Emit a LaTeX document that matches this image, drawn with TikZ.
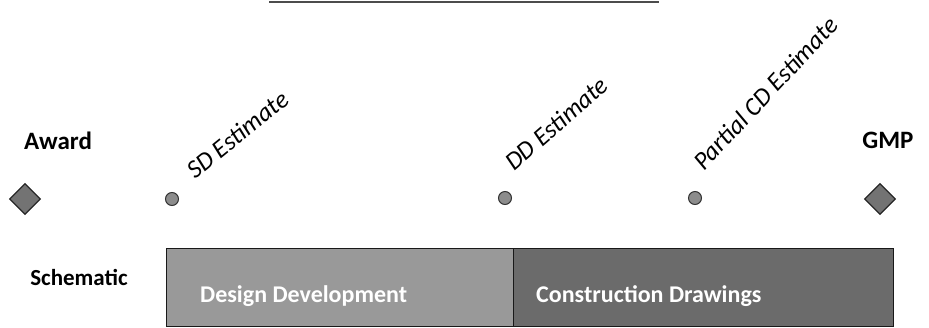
\documentclass[tikz,border=0pt]{standalone}
\usepackage{fontspec}
\setmainfont{Carlito}
\usetikzlibrary{shapes.geometric}

\begin{document}
\begin{tikzpicture}[x=1pt, y=-1pt,
  milestone/.style={diamond, draw=black!85, fill=black!55, line width=1.2pt,
    inner sep=0pt, minimum width=31, minimum height=31},
  estdot/.style={circle, draw=black!80, fill=black!45, line width=1pt,
    inner sep=0pt, minimum size=13},
  esttext/.style={anchor=base west, rotate=#1, inner sep=0pt,
    font=\fontsize{25.5}{30}\selectfont\itshape},
  headtext/.style={anchor=base, inner sep=0pt,
    font=\fontsize{25}{30}\selectfont\bfseries},
  phasebox/.style={draw=black!90, line width=1pt, inner sep=0pt,
    anchor=north west, minimum height=78},
  phasetext/.style={anchor=base west, inner sep=0pt, text=white,
    font=\fontsize{24}{28}\selectfont\bfseries}]

  \useasboundingbox (0,0) rectangle (929,327);

  % rule at the top
  \coordinate (ruleL) at (269,2);
  \coordinate (ruleR) at (659,2);
  \draw[line width=2.5pt, black!70] (ruleL) -- (ruleR);

  % milestones at both ends
  \node[headtext] (awardlbl) at (58,149) {Award};
  \node[milestone] (award) at (25,199) {};
  \node[headtext] (gmplbl) at (888,148) {GMP};
  \node[milestone] (gmp) at (880,199) {};

  % estimates
  \node[estdot] (sd) at (172,199) {};
  \node[esttext=39] (sdlbl) at (195,180) {SD Estimate};
  \node[estdot] (dd) at (505,198) {};
  \node[esttext=41] (ddlbl) at (514,172) {DD Estimate};
  \node[estdot] (pcd) at (695,198) {};
  \node[esttext=47] (pcdlbl) at (704,172) {Partial CD Estimate};

  % phases
  \node[anchor=base, inner sep=0pt, font=\fontsize{23}{28}\selectfont\bfseries]
    (schem) at (79,285) {Schematic};
  \node[phasebox, fill=black!40, minimum width=347] (ddbox) at (166,248) {};
  \node[phasebox, fill=black!58, minimum width=380] (cdbox) at (513,248) {};
  \node[phasetext] (ddtxt) at (200,302) {Design Development};
  \node[phasetext] (cdtxt) at (536,302) {Construction Drawings};

\end{tikzpicture}
\end{document}
